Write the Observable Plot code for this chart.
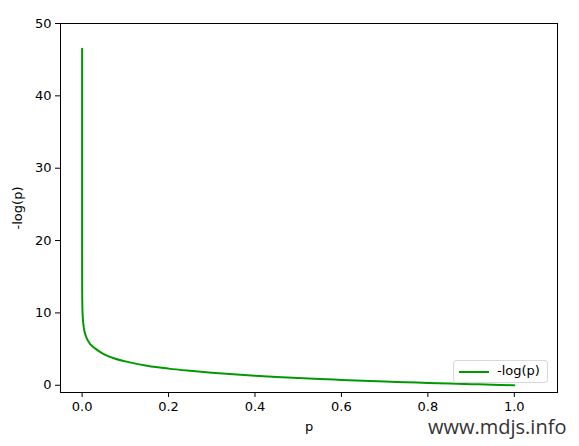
<!DOCTYPE html>
<html>
<head>
<meta charset="utf-8">
<script src="https://cdn.jsdelivr.net/npm/d3@7"></script>
<script src="https://cdn.jsdelivr.net/npm/@observablehq/plot@0.6"></script>
<style>
  html, body { margin: 0; padding: 0; background: #fff; }
  #wrap { position: relative; width: 579px; height: 446px; font-family: "DejaVu Sans", sans-serif; }
  #legend { position: absolute; left: 453px; top: 360px; width: 95px; height: 23px; border: 1px solid #d8d8d8; border-radius: 3px; background: rgba(255,255,255,0.85); box-sizing: border-box; }
  #legend .swatch { position: absolute; left: 5px; top: 10px; width: 30px; height: 2px; }
  #legend .lbl { position: absolute; left: 43px; top: 2px; font-size: 13px; color: #000; }
  #mark { position: absolute; left: 428px; top: 413px; font-size: 20px; color: #333; font-family: "Open Sans", "DejaVu Sans", sans-serif; }
</style>
</head>
<body>
<div id="wrap"></div>
<script>
// values
const pValues = [0.0, 1e-10, 1e-6, 0.0001, 0.001, 0.003, 0.005, 0.01, 0.02, 0.03, 0.05, 0.075, 0.1, 0.15, 0.2, 0.25, 0.3, 0.35, 0.4, 0.45, 0.5, 0.55, 0.6, 0.65, 0.7, 0.75, 0.8, 0.85, 0.9, 0.95, 1.0];
const yValues = [46.5, 33.2, 19.9, 13.3, 10.0, 8.4, 7.6, 6.6, 5.6, 5.1, 4.3, 3.7, 3.3, 2.7, 2.3, 2.0, 1.74, 1.51, 1.32, 1.15, 1.0, 0.86, 0.74, 0.62, 0.51, 0.42, 0.32, 0.23, 0.15, 0.07, 0.0];
const xTicks = [0.0, 0.2, 0.4, 0.6, 0.8, 1.0];
const yTicks = [0, 10, 20, 30, 40, 50];
const seriesName = "-log(p)";
const lineColor = "#009a00";

const data = pValues.map((p, i) => ({p, y: yValues[i]}));

const chart = Plot.plot({
  width: 579,
  height: 446,
  marginLeft: 60,
  marginRight: 22,
  marginTop: 23,
  marginBottom: 54,
  style: {fontFamily: "DejaVu Sans, sans-serif", fontSize: "13px", color: "#000", background: "#fff"},
  x: {domain: [-0.05, 1.1]},
  y: {domain: [-1, 50]},
  marks: [
    Plot.axisX({ticks: xTicks, tickFormat: d3.format(".1f"), tickSize: 5, tickPadding: 4, fontSize: 13,
      label: "p", labelAnchor: "center", labelArrow: "none", labelOffset: 38}),
    Plot.axisY({ticks: yTicks, tickSize: 5, tickPadding: 4, fontSize: 13,
      label: "-log(p)", labelAnchor: "center", labelArrow: "none", labelOffset: 48}),
    Plot.line(data, {x: "p", y: "y", stroke: lineColor, strokeWidth: 2, curve: "monotone-x"}),
    Plot.frame({stroke: "#000", strokeWidth: 1})
  ]
});

const wrap = document.getElementById("wrap");
wrap.appendChild(chart);

const legend = document.createElement("div");
legend.id = "legend";
legend.innerHTML = `<div class="swatch" style="background:${lineColor}"></div><div class="lbl">${seriesName}</div>`;
wrap.appendChild(legend);

const mark = document.createElement("div");
mark.id = "mark";
mark.textContent = "www.mdjs.info";
wrap.appendChild(mark);
</script>
</body>
</html>
